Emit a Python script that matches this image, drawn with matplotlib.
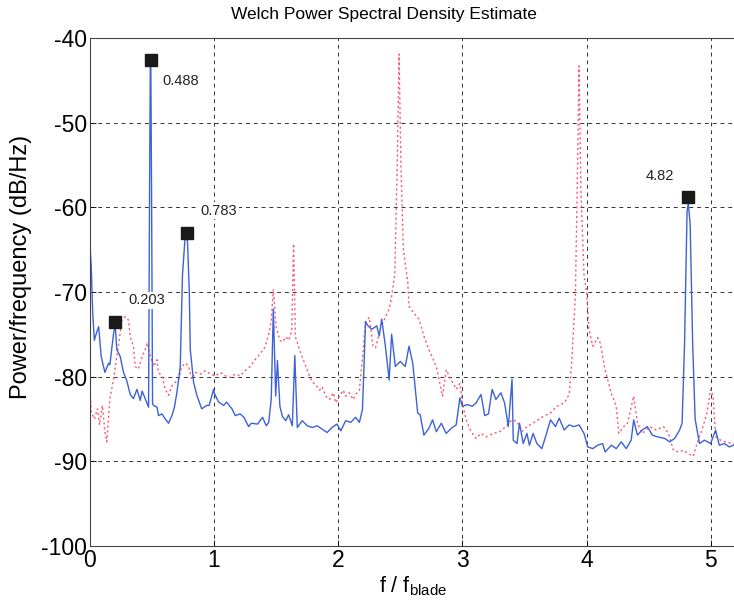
import numpy as np
import matplotlib
matplotlib.use("Agg")
import matplotlib.pyplot as plt

plt.rcParams["font.family"] = ["Liberation Sans", "DejaVu Sans"]
plt.rcParams["mathtext.fontset"] = "custom"
plt.rcParams["mathtext.rm"] = "Liberation Sans"
plt.rcParams["axes.unicode_minus"] = False

# blue (solid) spectrum
f_blue = [0.0, 0.01, 0.022, 0.035, 0.055, 0.07, 0.09, 0.12, 0.15, 0.16, 0.19, 0.203, 0.216,
          0.243, 0.27, 0.297, 0.324, 0.35, 0.378, 0.405, 0.42, 0.445, 0.472, 0.48,
          0.486, 0.49, 0.496, 0.504, 0.512, 0.54, 0.552, 0.58, 0.606, 0.633, 0.66,
          0.68, 0.70, 0.727, 0.745, 0.765, 0.785, 0.80, 0.808, 0.835, 0.861, 0.90,
          0.94, 0.96, 0.996, 1.0, 1.036, 1.077, 1.10, 1.144, 1.17, 1.21, 1.24, 1.278,
          1.30, 1.35, 1.39, 1.42, 1.44, 1.46, 1.477, 1.496, 1.51, 1.53, 1.55, 1.577,
          1.60, 1.63, 1.65, 1.67, 1.71, 1.75, 1.79, 1.83, 1.87, 1.91, 1.95, 1.99,
          2.02, 2.06, 2.10, 2.14, 2.17, 2.195, 2.22, 2.24, 2.27, 2.31, 2.33, 2.35,
          2.38, 2.41, 2.43, 2.46, 2.50, 2.54, 2.57, 2.60, 2.64, 2.66, 2.69, 2.73,
          2.76, 2.79, 2.83, 2.87, 2.91, 2.95, 2.98, 3.00, 3.04, 3.08, 3.11, 3.15,
          3.18, 3.21, 3.24, 3.27, 3.31, 3.34, 3.37, 3.40, 3.41, 3.44, 3.46, 3.49,
          3.52, 3.54, 3.57, 3.60, 3.64, 3.67, 3.71, 3.75, 3.78, 3.82, 3.86, 3.90,
          3.94, 3.98, 4.01, 4.05, 4.09, 4.13, 4.15, 4.20, 4.24, 4.28, 4.32, 4.36,
          4.38, 4.41, 4.45, 4.49, 4.53, 4.57, 4.63, 4.67, 4.71, 4.75, 4.77, 4.79,
          4.81, 4.82, 4.835, 4.855, 4.875, 4.91, 4.95, 5.00, 5.04, 5.07, 5.11, 5.15,
          5.20]
psd_blue = [-64.5, -67.0, -72.5, -75.7, -74.7, -74.1, -77.6, -79.5, -78.4, -78.6, -74.9, -73.9, -76.8,
            -77.6, -79.5, -80.5, -82.1, -82.6, -81.5, -82.8, -81.7, -82.6, -83.6, -58.0,
            -43.2, -43.3, -58.0, -83.2, -83.4, -83.6, -84.6, -84.4, -85.0, -85.5, -84.6,
            -83.6, -81.9, -78.8, -68.0, -63.8, -63.8, -70.0, -76.8, -80.7, -82.2, -83.8,
            -83.4, -83.4, -81.5, -81.9, -83.0, -83.4, -83.0, -83.8, -84.6, -84.4, -84.8, -85.9,
            -85.5, -85.6, -84.8, -85.8, -85.4, -82.7, -72.0, -82.3, -78.1, -83.5, -84.7, -85.2,
            -84.5, -85.8, -77.5, -86.0, -85.2, -85.8, -86.0, -85.8, -86.2, -86.6, -86.0, -85.6,
            -86.4, -85.2, -85.4, -84.8, -85.4, -83.9, -73.5, -74.0, -74.4, -74.0, -75.2, -73.2,
            -76.4, -80.4, -75.0, -78.8, -78.2, -78.8, -76.4, -78.4, -84.3, -84.5, -86.9, -86.1,
            -85.1, -86.5, -85.5, -86.7, -86.1, -85.7, -82.5, -83.5, -83.3, -83.5, -83.1, -82.1,
            -84.6, -84.4, -81.5, -82.7, -81.9, -83.1, -85.9, -80.3, -87.5, -87.9, -85.5, -87.9,
            -86.7, -88.1, -86.7, -87.9, -88.5, -87.1, -85.1, -85.9, -84.9, -86.3, -85.7, -85.9,
            -85.7, -86.7, -88.3, -88.5, -88.1, -87.9, -88.9, -88.1, -88.5, -87.7, -88.5, -87.5,
            -85.1, -86.9, -86.3, -85.9, -86.9, -87.1, -87.3, -87.7, -87.3, -86.3, -85.5, -76.0,
            -60.5, -59.5, -62.0, -76.0, -85.0, -87.9, -87.5, -87.9, -86.3, -88.1, -87.9, -88.3,
            -88.0]

# red (dotted) spectrum
f_red = [0.0, 0.01, 0.036, 0.06, 0.077, 0.10, 0.12, 0.135, 0.16, 0.19, 0.216, 0.243,
         0.257, 0.284, 0.31, 0.324, 0.35, 0.364, 0.39, 0.42, 0.445, 0.46, 0.48, 0.512,
         0.54, 0.55, 0.58, 0.606, 0.633, 0.66, 0.686, 0.714, 0.74, 0.77, 0.795, 0.82,
         0.85, 0.89, 0.93, 0.97, 1.01, 1.05, 1.09, 1.13, 1.17, 1.21, 1.25, 1.29, 1.33,
         1.37, 1.41, 1.44, 1.46, 1.477, 1.50, 1.53, 1.55, 1.58, 1.60, 1.625, 1.64,
         1.655, 1.69, 1.71, 1.74, 1.77, 1.79, 1.82, 1.85, 1.87, 1.90, 1.93, 1.96,
         1.98, 2.01, 2.04, 2.06, 2.09, 2.12, 2.14, 2.17, 2.20, 2.22, 2.25, 2.28, 2.30,
         2.34, 2.37, 2.41, 2.43, 2.455, 2.475, 2.49, 2.505, 2.525, 2.56, 2.57, 2.61,
         2.65, 2.69, 2.73, 2.79, 2.84, 2.87, 2.91, 2.95, 2.98, 3.00, 3.03, 3.07, 3.11,
         3.15, 3.19, 3.25, 3.30, 3.35, 3.40, 3.44, 3.48, 3.52, 3.57, 3.61, 3.65, 3.71,
         3.76, 3.82, 3.86, 3.88, 3.91, 3.925, 3.94, 3.955, 3.98, 4.00, 4.02, 4.05, 4.09,
         4.11, 4.15, 4.20, 4.24, 4.26, 4.30, 4.33, 4.38, 4.41, 4.45, 4.51, 4.56, 4.62,
         4.66, 4.70, 4.74, 4.78, 4.82, 4.86, 4.89, 4.93, 4.97, 5.00, 5.02, 5.04, 5.08,
         5.12, 5.17, 5.20]
psd_red = [-81.1, -84.2, -85.0, -83.8, -85.7, -83.4, -86.5, -87.7, -82.6, -80.3, -77.6, -74.9,
           -73.3, -72.9, -73.3, -75.3, -76.4, -78.8, -79.1, -77.6, -76.8, -76.0, -77.2, -78.8,
           -78.0, -79.5, -79.9, -81.5, -82.2, -81.1, -80.7, -80.3, -78.8, -78.4, -78.8, -80.3,
           -79.5, -79.7, -79.3, -79.7, -79.9, -79.5, -79.9, -80.1, -79.7, -79.9, -79.3, -78.8, -78.0,
           -77.3, -76.5, -75.0, -73.4, -69.7, -74.2, -75.7, -75.9, -75.3, -75.7, -74.6, -64.3,
           -75.3, -76.9, -77.7, -78.8, -80.0, -80.6, -81.0, -81.6, -81.2, -82.3, -82.7, -81.9,
           -83.1, -82.3, -81.6, -82.3, -81.9, -82.7, -82.1, -81.6, -77.0, -73.5, -73.0, -76.4, -76.6,
           -74.3, -73.3, -72.0, -70.5, -68.0, -55.0, -41.9, -55.0, -65.0, -68.8, -71.7, -72.5,
           -73.2, -75.2, -76.8, -78.8, -82.3, -79.2, -80.4, -81.5, -80.8, -83.1, -85.1, -86.5, -87.3,
           -86.7, -87.1, -86.7, -86.5, -85.9, -85.1, -85.3, -86.5, -85.9, -85.5, -85.1, -84.7, -84.3,
           -83.5, -83.1, -82.1, -78.5, -70.5, -58.0, -43.3, -58.0, -68.0, -70.0, -74.4, -76.4, -75.4,
           -76.0, -79.2, -82.0, -83.5, -86.7, -85.9, -85.5, -82.3, -85.5, -86.7, -85.9, -86.3, -85.9,
           -86.7, -88.7, -88.9, -88.7, -89.1, -89.4, -87.9, -86.3, -84.3, -81.5, -82.3, -87.1, -87.5,
           -87.7, -87.9, -88.0]

# marked peaks and their labels
peak_f = [0.203, 0.488, 0.783, 4.82]
peak_db = [-73.5, -42.6, -63.0, -58.8]
peak_labels = ["0.203", "0.488", "0.783", "4.82"]
label_f = [0.31, 0.585, 0.89, 4.48]
label_db = [-71.0, -45.1, -60.4, -56.3]

fig = plt.figure(figsize=(7.34, 6.11), dpi=100)
ax = fig.add_axes([0.1226, 0.1064, 0.8794, 0.8314])

ax.plot(f_red, psd_red, color="#ff5573", lw=1.0, ls=(0, (1.5, 2.0)))
ax.plot(f_blue, psd_blue, color="#3b62d6", lw=1.0)
ax.plot(peak_f, peak_db, ls="none", marker="s", ms=8.5, color="#1a1a1a")
for lf, ld, txt in zip(label_f, label_db, peak_labels):
    ax.text(lf, ld, txt, fontsize=10.5, ha="left", va="center", color="#222222",
            bbox=dict(facecolor="white", edgecolor="none", pad=1.0), zorder=5)

ax.set_xlim(0, 5.2)
ax.set_ylim(-100, -40)
ax.set_xticks(range(6))
ax.set_yticks(range(-100, -39, 10))
ax.tick_params(direction="in", labelsize=16.5, length=4, width=0.6, pad=2)
ax.grid(True, color="#333333", ls=(0, (4, 4)), lw=0.7)
for s in ax.spines.values():
    s.set_linewidth(0.8)
    s.set_color("#444444")

ax.set_title("Welch Power Spectral Density Estimate", fontsize=12.5, x=0.455, pad=14)
ax.set_xlabel("f / f$_{\\rm blade}$", fontsize=15.5, labelpad=2)
ax.set_ylabel("Power/frequency (dB/Hz)", fontsize=17, labelpad=2)
ax.yaxis.set_label_coords(-0.09, 0.55)

fig.savefig("out.png", dpi=100)
